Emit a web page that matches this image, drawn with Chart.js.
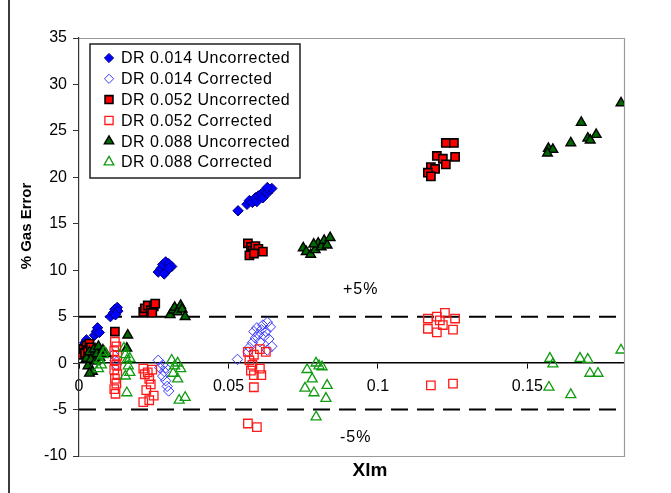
<!DOCTYPE html>
<html>
<head>
<meta charset="utf-8">
<script src="https://cdn.jsdelivr.net/npm/chart.js@4/dist/chart.umd.min.js"></script>
<style>
  html, body { margin: 0; padding: 0; background: #ffffff; }
  #wrap { width: 671px; height: 493px; }
</style>
</head>
<body>
<div id="wrap"><canvas id="c" width="671" height="493"></canvas></div>
<script>
// ---------- data ----------
const seriesLabels = [
  'DR 0.014 Uncorrected', 'DR 0.014 Corrected',
  'DR 0.052 Uncorrected', 'DR 0.052 Corrected',
  'DR 0.088 Uncorrected', 'DR 0.088 Corrected'
];

const dr014UncX = [0.0005,0.001,0.0015,0.002,0.0025, 0.0052,0.0058,0.0062,0.0068, 0.0105,0.0115,0.012,0.0128,0.013,0.0122, 0.0265,0.0275,0.028,0.029,0.030,0.031,0.0295,0.0285,0.030, 0.0532,0.0562,0.057,0.058,0.059,0.0595,0.060,0.061,0.0615,0.062,0.063,0.0635,0.0645,0.063];
const dr014UncY = [1.2,1.6,1.9,2.2,2.5, 3.0,3.4,3.8,3.3, 5.0,5.4,5.8,6.0,5.6,5.2, 9.8,10.2,10.6,10.9,10.7,10.4,10.0,9.6,10.2, 16.4,17.1,17.5,17.3,17.8,17.4,18.0,18.2,17.8,18.5,18.3,18.7,18.8,18.9];

const dr014CorX = [0.001,0.0015, 0.0115,0.012,0.0125, 0.0265,0.027,0.028,0.0285,0.028,0.029,0.0295,0.030,0.029, 0.053,0.0565,0.057,0.058,0.0585,0.059,0.0595,0.060,0.0605,0.061,0.0615,0.062,0.0625,0.063,0.064,0.0635,0.0645,0.063];
const dr014CorY = [1.1,0.8, 0.9,0.3,-0.2, 0.3,-0.5,-0.2,-0.9,-1.4,-1.9,-2.5,-3.0,-0.5, 0.4,1.2,1.7,2.2,3.4,2.7,3.8,3.1,2.3,3.6,4.1,2.9,3.4,4.4,3.9,2.6,1.8,1.4];

const dr052UncX = [0.001,0.0015,0.002,0.0025,0.003,0.0035,0.004,0.003, 0.012, 0.0215,0.022,0.023,0.024,0.025,0.0255,0.0245, 0.0565,0.0575,0.058,0.059,0.060,0.0615,0.057,0.0585, 0.1227,0.1254,0.1197,0.1217,0.1258,0.1227,0.1177,0.1191,0.1167,0.1177];
const dr052UncY = [0.9,1.5,1.1,1.9,1.4,2.1,1.7,0.7, 3.4, 5.5,5.9,6.2,5.7,6.1,6.4,5.4, 12.9,12.5,12.1,12.6,12.3,12.0,11.6,11.8, 23.7,23.7,22.3,22.0,22.2,21.4,21.1,20.9,20.5,20.1];

const dr052CorX = [0.012,0.0125,0.0118,0.0128,0.012,0.0125,0.0118,0.0128,0.012,0.0125,0.0118,0.0122, 0.0215,0.022,0.023,0.0235,0.024,0.0225,0.025,0.0215,0.0235,0.0245, 0.0565,0.0585,0.0605,0.0625,0.057,0.058,0.0575,0.0585,0.0605,0.061,0.0585,0.0565,0.0595, 0.1167,0.1197,0.1224,0.1258,0.1167,0.1197,0.1217,0.1251,0.1207,0.1177,0.1251];
const dr052CorY = [2.3,1.8,1.3,0.8,0.3,-0.2,-0.7,-1.2,-1.7,-2.2,-2.8,-3.3, -0.6,-1.2,-1.0,-1.7,-2.3,-2.9,-3.5,-4.2,-4.0,-0.7, 1.2,0.9,1.5,1.2,0.3,-0.2,-0.8,-1.3,-0.6,-1.3,-2.6,-6.5,-6.9, 4.8,5.0,5.4,4.8,3.7,3.3,4.1,3.6,4.6,-2.4,-2.2];

const dr088UncX = [0.0025,0.003,0.0035,0.004,0.0045,0.005,0.0055,0.006,0.0065,0.007,0.008,0.009,0.0035, 0.0163,0.016, 0.0305,0.0315,0.032,0.033,0.034,0.0345,0.0355, 0.075,0.076,0.0775,0.079,0.080,0.081,0.082,0.083,0.084,0.0785, 0.157,0.1585,0.1567,0.1645,0.168,0.1702,0.171,0.173,0.1813];
const dr088UncY = [0.5,-0.3,1.2,0.4,-0.9,1.5,0.2,1.0,1.8,0.6,1.4,1.0,-1.1, 3.0,1.6, 5.2,5.7,6.0,5.5,6.2,5.8,5.0, 12.4,12.0,11.7,12.2,12.9,12.5,13.2,12.7,13.5,12.8, 23.1,23.0,22.6,23.7,25.9,24.2,24.0,24.6,28.0];

const dr088CorX = [0.007,0.0075,0.008,0.0085,0.0065, 0.015,0.0155,0.016,0.017,0.0165,0.017,0.0155,0.016, 0.031,0.032,0.033,0.034,0.0315,0.033,0.0335,0.0355, 0.0793,0.0813,0.0763,0.078,0.083,0.0756,0.0786,0.0826,0.0793,0.0803, 0.1575,0.1585,0.1676,0.1702,0.1709,0.1736,0.1572,0.1645,0.1813];
const dr088CorY = [0.3,-0.2,0.9,1.2,-0.6, 1.6,0.9,0.3,0.5,-0.3,-1.0,-1.4,-3.2, 0.3,-0.3,0.0,-0.6,-1.1,-1.7,-4.0,-3.7, 0.0,-0.4,-0.7,-1.7,-2.4,-2.7,-3.2,-3.8,-5.8,-0.3, 0.5,-0.1,0.5,0.4,-1.1,-1.1,-2.6,-3.4,1.4];

const limitValues = [5, -5];
const limitLabels = ['+5%', '-5%'];
const xTicks = [0, 0.05, 0.1, 0.15];
const yTicks = [-10, -5, 0, 5, 10, 15, 20, 25, 30, 35];
const xMin = 0, xMax = 0.1823, yMin = -10, yMax = 35;
const xTitle = 'Xlm';
const yTitle = '% Gas Error';

// ---------- styles ----------
const FONT = "'Liberation Sans', Arial, sans-serif";
const styles = [
  { pointStyle: 'rectRot', radius: 5.2, fill: '#0000ff', stroke: '#000080', bw: 1 },
  { pointStyle: 'rectRot', radius: 5.2, fill: 'rgba(0,0,0,0)', stroke: '#3a3aff', bw: 1 },
  { pointStyle: 'rect', radius: 5.8, fill: '#ff0000', stroke: '#000000', bw: 1.6 },
  { pointStyle: 'rect', radius: 6.0, fill: 'rgba(0,0,0,0)', stroke: '#ff1a1a', bw: 1.3 },
  { pointStyle: 'triangle', radius: 5.6, fill: '#006a00', stroke: '#000000', bw: 1.4 },
  { pointStyle: 'triangle', radius: 5.8, fill: 'rgba(0,0,0,0)', stroke: '#109a10', bw: 1.3 }
];
const legendRadius = [4.6, 4.6, 5.6, 5.8, 5.4, 5.6];
const seriesX = [dr014UncX, dr014CorX, dr052UncX, dr052CorX, dr088UncX, dr088CorX];
const seriesY = [dr014UncY, dr014CorY, dr052UncY, dr052CorY, dr088UncY, dr088CorY];

const datasets = [];
seriesLabels.forEach((label, i) => {
  const s = styles[i];
  datasets.push({
    type: 'scatter',
    label,
    data: seriesX[i].map((x, k) => ({ x, y: seriesY[i][k] })),
    pointStyle: s.pointStyle,
    pointRadius: s.radius,
    pointBackgroundColor: s.fill,
    pointBorderColor: s.stroke,
    pointBorderWidth: s.bw,
    backgroundColor: s.fill,
    borderColor: s.stroke,
    showLine: false,
    order: 10 - i
  });
});
limitValues.forEach((v) => {
  datasets.push({
    type: 'line',
    label: '',
    data: [{ x: xMin, y: v }, { x: xMax, y: v }],
    borderColor: '#000000',
    borderWidth: 2,
    borderDash: [17, 9],
    pointRadius: 0,
    fill: false,
    order: 50
  });
});

function drawMarker(ctx, style, r, x, y, fill, stroke, bw) {
  ctx.save();
  ctx.beginPath();
  if (style === 'rect') {
    const s = Math.SQRT1_2 * r;
    ctx.rect(x - s, y - s, 2 * s, 2 * s);
  } else if (style === 'rectRot') {
    ctx.moveTo(x - r, y); ctx.lineTo(x, y - r); ctx.lineTo(x + r, y); ctx.lineTo(x, y + r); ctx.closePath();
  } else {
    for (let k = 0; k < 3; k++) {
      const a = k * 2 * Math.PI / 3;
      const px = x + Math.sin(a) * r, py = y - Math.cos(a) * r;
      if (k === 0) ctx.moveTo(px, py); else ctx.lineTo(px, py);
    }
    ctx.closePath();
  }
  ctx.fillStyle = fill; ctx.fill();
  ctx.lineWidth = bw; ctx.strokeStyle = stroke; ctx.stroke();
  ctx.restore();
}

const decor = {
  id: 'decor',
  beforeDraw(chart) {
    const ctx = chart.ctx;
    ctx.save();
    ctx.fillStyle = '#ffffff';
    ctx.fillRect(0, 0, chart.width, chart.height);
    ctx.strokeStyle = '#3c3c3c';
    ctx.lineWidth = 2;
    ctx.beginPath(); ctx.moveTo(9, 0); ctx.lineTo(9, chart.height); ctx.stroke();
    ctx.restore();
  },
  beforeDatasetsDraw(chart) {
    const { ctx, chartArea: a } = chart;
    ctx.save();
    ctx.strokeStyle = '#9a9a9a';
    ctx.lineWidth = 1.2;
    ctx.beginPath();
    ctx.moveTo(a.left, a.top + 0.5); ctx.lineTo(a.right + 0.5, a.top + 0.5);
    ctx.lineTo(a.right + 0.5, a.bottom + 0.5); ctx.lineTo(a.left, a.bottom + 0.5);
    ctx.stroke();
    ctx.restore();
  },
  afterDraw(chart) {
    const { ctx, scales } = chart;
    const xs = scales.x, ys = scales.y;
    ctx.save();
    ctx.fillStyle = '#000000';
    // limit labels
    ctx.font = '16px ' + FONT;
    try { ctx.letterSpacing = '1px'; } catch (e) {}
    ctx.textAlign = 'left';
    ctx.textBaseline = 'middle';
    ctx.fillText(limitLabels[0], xs.getPixelForValue(0.0883), ys.getPixelForValue(7.9));
    ctx.fillText(limitLabels[1], xs.getPixelForValue(0.0873), ys.getPixelForValue(-8.0));
    try { ctx.letterSpacing = '0px'; } catch (e) {}
    // axis titles
    ctx.font = 'bold 19px ' + FONT;
    ctx.textAlign = 'center';
    ctx.fillText(xTitle, 370, 471);
    ctx.save();
    ctx.translate(27, 226);
    ctx.rotate(-Math.PI / 2);
    ctx.font = 'bold 15px ' + FONT;
    ctx.fillText(yTitle, 0, 0);
    ctx.restore();
    // legend box
    const lx = 90, ly = 44, lw = 210, lh = 134;
    ctx.fillStyle = '#ffffff';
    ctx.fillRect(lx, ly, lw, lh);
    ctx.strokeStyle = '#202020';
    ctx.lineWidth = 1.5;
    ctx.strokeRect(lx, ly, lw, lh);
    ctx.font = '16px ' + FONT;
    try { ctx.letterSpacing = '0.5px'; } catch (e) {}
    ctx.textAlign = 'left';
    ctx.textBaseline = 'middle';
    seriesLabels.forEach((label, i) => {
      const cy = 58 + i * 20.8;
      const s = styles[i];
      const fill = s.fill === 'rgba(0,0,0,0)' ? '#ffffff' : s.fill;
      drawMarker(ctx, s.pointStyle, legendRadius[i], 109, cy, fill, s.stroke, s.bw);
      ctx.fillStyle = '#000000';
      ctx.fillText(label, 121, cy + 1);
    });
    ctx.restore();
  }
};

new Chart(document.getElementById('c'), {
  type: 'scatter',
  data: { datasets },
  options: {
    responsive: false,
    animation: false,
    devicePixelRatio: 1,
    layout: { padding: { left: 0, top: 38, right: 47, bottom: 37 } },
    plugins: { legend: { display: false }, tooltip: { enabled: false }, title: { display: false } },
    scales: {
      x: {
        type: 'linear',
        min: xMin, max: xMax,
        position: { y: 0 },
        afterBuildTicks: (s) => { s.ticks = xTicks.map(v => ({ value: v })); },
        afterFit: (s) => { s.height = 0; },
        ticks: {
          callback: (v) => String(v),
          font: { family: FONT, size: 16 },
          color: '#000000',
          padding: 9,
          maxRotation: 0,
          autoSkip: false
        },
        grid: { display: true, drawOnChartArea: false, drawTicks: true, tickLength: 5, color: '#000000', lineWidth: 1 },
        border: { display: true, color: '#000000', width: 1.6 }
      },
      y: {
        type: 'linear',
        min: yMin, max: yMax,
        position: 'left',
        afterBuildTicks: (s) => { s.ticks = yTicks.map(v => ({ value: v })); },
        afterFit: (s) => { s.width = 79; },
        ticks: {
          callback: (v) => String(v),
          font: { family: FONT, size: 16 },
          color: '#000000',
          padding: 6
        },
        grid: { display: true, drawOnChartArea: false, drawTicks: true, tickLength: 6, color: '#333333', lineWidth: 1 },
        border: { display: true, color: '#333333', width: 1.2 }
      }
    }
  },
  plugins: [decor]
});
</script>
</body>
</html>
